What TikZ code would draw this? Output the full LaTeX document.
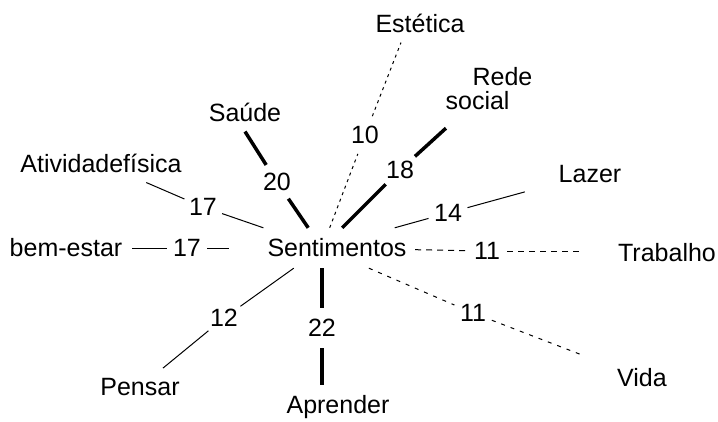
\documentclass[tikz,border=0pt]{standalone}
\usepackage{fontspec}
\setmainfont{Liberation Sans}
\begin{document}
\begin{tikzpicture}[x=1pt,y=-1pt,
  every node/.style={font=\fontsize{25}{24}\selectfont},
  term/.style={inner sep=10pt},
  num/.style={circle,inner sep=0pt,minimum size=40pt},
  lthin/.style={line width=1pt},
  heavy/.style={line width=3.5pt},
  heavier/.style={line width=4.5pt},
  dashest/.style={line width=1pt,dash pattern=on 3pt off 4pt},
  dashtrab/.style={line width=1pt,dash pattern=on 6pt off 5pt},
  dashvida/.style={line width=1pt,dash pattern=on 4pt off 6pt}]
\useasboundingbox (0,0) rectangle (718,421);

% central node
\node[inner sep=0pt,minimum width=186pt,minimum height=40pt] (sent) at (322,248) {\hspace*{30pt}Sentimentos};

% outer terms
\node[term] (est) at (420,23) {Estética};
\node[inner sep=0pt,minimum width=90pt,minimum height=78pt,align=left] (rede) at (489,89) {\hspace*{27pt}Rede\\social};
\node[term] (sau) at (245,112) {Saúde};
\node[term] (ativ) at (101,163) {Atividadefísica};
\node[inner sep=0pt,minimum width=130pt,minimum height=36pt] (laz) at (590,174) {Lazer};
\node[term] (bem) at (66,248) {bem-estar};
\node[inner sep=0pt,minimum width=166pt,minimum height=36pt] (trab) at (667,253) {Trabalho};
\node[term] (pen) at (140,387) {Pensar};
\node[term] (apr) at (338,407) {Aprender};
\node[inner sep=0pt,minimum width=122pt,minimum height=48pt] (vida) at (642,378) {Vida};

% weight labels
\node[num] (l10) at (365,135) {10};
\node[num] (l18) at (400,170) {18};
\node[num] (l20) at (277,182) {20};
\node[num] (l17a) at (203,207) {17};
\node[num] (l14) at (448,213) {14};
\node[num] (l17b) at (187,248) {17};
\node[num] (l11a) at (487,251) {11};
\node[num] (l12) at (224,318) {12};
\node[num] (l22) at (322,328) {22};
\node[num] (l11b) at (473,313) {11};

% connectors
\draw[dashest] (sent) -- (l10);
\draw[dashest] (l10) -- ([xshift=-19pt]est.south);
\draw[heavy] (sent) -- (l18);
\draw[heavy] (l18) -- (rede);
\draw[heavy] (sent) -- (l20);
\draw[heavy] (l20) -- (sau.south);
\draw[lthin] (sent) -- (l17a);
\draw[lthin] (l17a) -- (ativ);
\draw[lthin] (sent) -- (l14);
\draw[lthin] (l14) -- (laz);
\draw[lthin] (sent) -- (l17b);
\draw[lthin] (l17b) -- (bem);
\draw[dashtrab] (sent) -- (l11a);
\draw[dashtrab] (l11a) -- (l11a -| trab.west);
\draw[lthin] (sent) -- (l12);
\draw[lthin] (l12) -- (pen);
\draw[heavier] (sent) -- (l22);
\draw[heavier] (l22) -- (l22 |- apr.north);
\draw[dashvida] (sent) -- (l11b);
\draw[dashvida] (l11b) -- (vida);
\end{tikzpicture}
\end{document}
